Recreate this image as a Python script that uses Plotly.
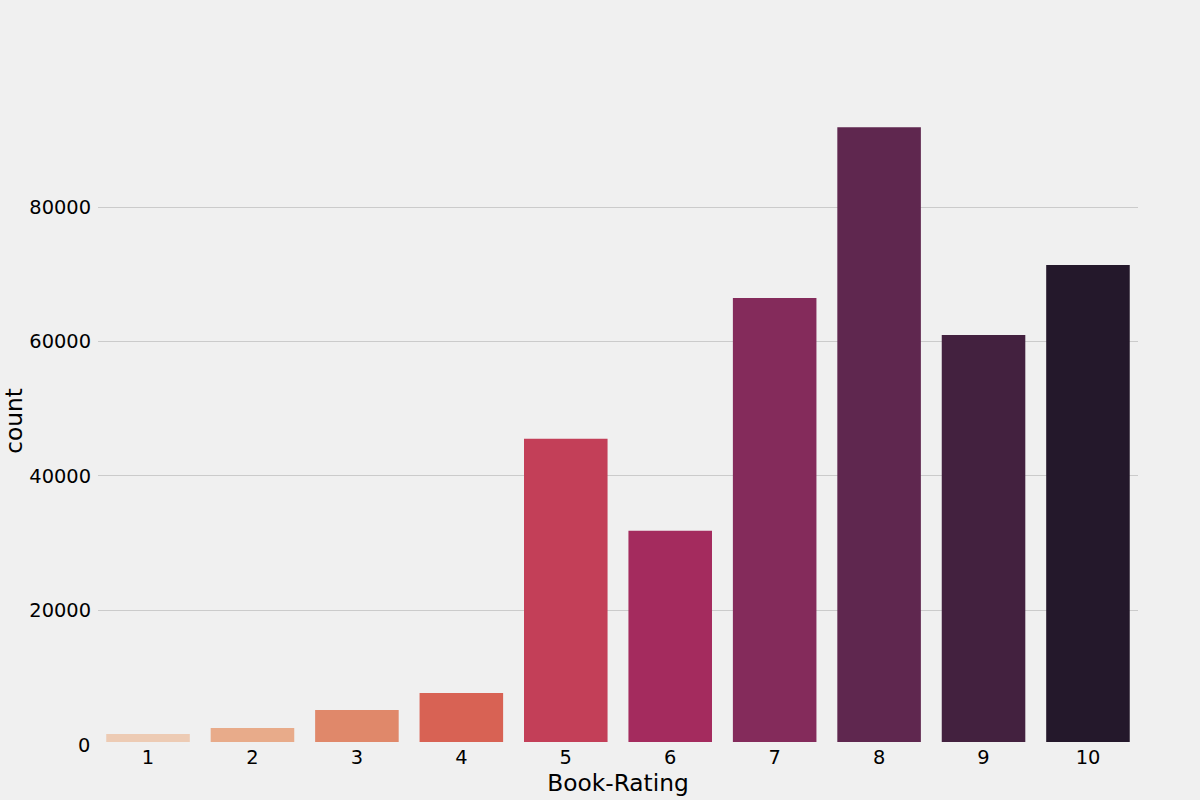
import plotly.graph_objects as go

categories = ["1", "2", "3", "4", "5", "6", "7", "8", "9", "10"]
counts = [1550, 2440, 5120, 7650, 45500, 31800, 66480, 91900, 60960, 71400]
colors = ["#EDCBB4", "#E8AB8A", "#E0886A", "#D86254", "#C33F58", "#A42B5E", "#842B5B", "#5F274F", "#43213F", "#24182B"]
tick_vals = [20000, 40000, 60000, 80000]

fig = go.Figure(go.Bar(x=categories, y=counts, marker=dict(color=colors, line_width=0), width=0.8))
fig.update_layout(
    width=1200, height=800, paper_bgcolor="#F0F0F0", plot_bgcolor="#F0F0F0",
    margin=dict(l=0, r=0, t=0, b=0), showlegend=False,
    font=dict(family="DejaVu Sans", color="black"), bargap=0.2,
)
fig.update_xaxes(domain=[0.08167, 0.94833], type="category", range=[-0.479, 9.479], showgrid=False, zeroline=False,
                 showline=False, ticks="", tickfont_size=19.4, ticklabelstandoff=2,
                 title=dict(text="Book-Rating", font_size=23.3, standoff=4), automargin=False)
fig.update_yaxes(domain=[0.0725, 0.875], range=[357, 95960], tickvals=tick_vals, ticktext=[str(v) for v in tick_vals],
                 showgrid=True, gridcolor="#CBCBCB", gridwidth=1.4, zeroline=False, showline=False, tickfont_size=19.4,
                 ticklabelstandoff=6, title=dict(text="count", font_size=23.3, standoff=9), automargin=False)
fig.add_annotation(text="0", xref="paper", yref="paper", x=0.0758, y=0.06875, xanchor="right", yanchor="middle",
                   showarrow=False, font_size=19.4, xshift=1)
fig.write_html("out.html", config=dict(displayModeBar=False),
               post_script="document.body.style.margin='0';document.body.style.background='#F0F0F0';")
